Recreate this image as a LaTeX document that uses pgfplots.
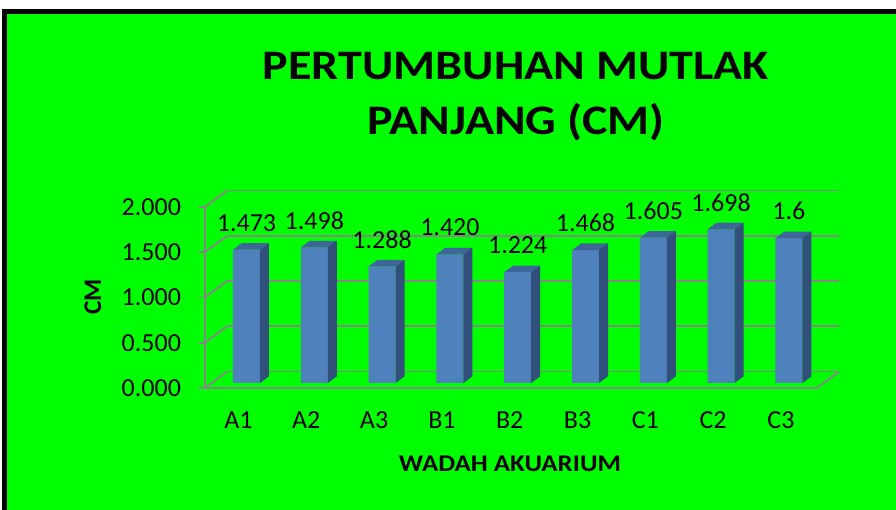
\documentclass[border=0pt]{standalone}
\usepackage{pgfplots}
\pgfplotsset{compat=1.18}
\usepackage{fontspec}
\setmainfont{Carlito}
\definecolor{bggreen}{HTML}{00FF00}
\definecolor{barfront}{HTML}{4F81BD}
\definecolor{bartop}{HTML}{3F6699}
\definecolor{barside}{HTML}{31507B}
\definecolor{gridgray}{HTML}{868686}

% 3D part of a bar (top face and right side face), drawn at the top-front centre of the bar
\pgfdeclareplotmark{bar3d}{%
  \pgfmathsetlengthmacro\hh{\barval*67.875pt}%
  \pgfpathmoveto{\pgfpoint{-10.125pt}{0pt}}%
  \pgfpathlineto{\pgfpoint{10.125pt}{0pt}}%
  \pgfpathlineto{\pgfpoint{16.875pt}{5pt}}%
  \pgfpathlineto{\pgfpoint{-3.375pt}{5pt}}%
  \pgfpathclose
  \pgfsetfillcolor{bartop}\pgfusepath{fill}%
  \pgfpathmoveto{\pgfpoint{10.125pt}{0pt}}%
  \pgfpathlineto{\pgfpoint{16.875pt}{5pt}}%
  \pgfpathlineto{\pgfpoint{16.875pt}{5pt-\hh}}%
  \pgfpathlineto{\pgfpoint{10.125pt}{-\hh}}%
  \pgfpathclose
  \pgfsetfillcolor{barside}\pgfusepath{fill}%
}

\begin{document}
\begin{tikzpicture}
\fill[white] (0,0) rectangle (672pt,382.5pt);
\useasboundingbox (0,0) rectangle (672pt,382.5pt);
\fill[black] (1.5pt,0) rectangle (672pt,375.75pt);
\fill[bggreen] (5.25pt,0) rectangle (672pt,372pt);

\begin{axis}[
  at={(153.75pt,91.5pt)}, anchor=south west,
  scale only axis, width=459pt, height=135.75pt,
  xmin=-0.612, xmax=8.414, ymin=0, ymax=2,
  clip=false,
  axis x line*=bottom, axis y line*=left,
  axis line style={gridgray, line width=1.4pt, -},
  xtick={0,...,8},
  xticklabels={A1,A2,A3,B1,B2,B3,C1,C2,C3},
  xtick style={draw=none},
  ytick={0,0.5,1,1.5,2},
  ytick style={gridgray, line width=1.4pt},
  tick align=outside, major tick length=4.5pt,
  /pgf/number format/assume math mode=true,
  yticklabel style={/pgf/number format/.cd, fixed, fixed zerofill, precision=3, /tikz/.cd,
    font=\fontsize{19.5pt}{23pt}\selectfont, xshift=-10pt},
  xticklabel style={font=\fontsize{19.5pt}{23pt}\selectfont, xshift=-6pt, yshift=-10pt},
  ymajorgrids,
  major grid style={gridgray, line width=1.4pt, xshift=16.5pt, yshift=12.4pt},
]
\pgfplotsinvokeforeach{0,0.25,0.5,0.75,1}{
  \draw[gridgray, line width=1.4pt] (rel axis cs:0,#1) -- ++(16.5pt,12.4pt);
}
\draw[gridgray, line width=1.4pt] (rel axis cs:1,0) -- ++(16.5pt,12.4pt);

\addplot[scatter, only marks, mark=bar3d, yshift=3.75pt,
  visualization depends on={rawy \as \barval}]
  coordinates {(0,1.473) (1,1.498) (2,1.288) (3,1.420) (4,1.224) (5,1.468) (6,1.605) (7,1.698) (8,1.6)};

\addplot[ybar, bar width=20.25pt, fill=barfront, draw=none, yshift=3.75pt,
  point meta=explicit symbolic, nodes near coords,
  every node near coord/.append style={font=\fontsize{19.5pt}{23pt}\selectfont, anchor=center, yshift=20.25pt, text=black}]
  coordinates {(0,1.473)[1.473] (1,1.498)[1.498] (2,1.288)[1.288] (3,1.420)[1.420] (4,1.224)[1.224]
               (5,1.468)[1.468] (6,1.605)[1.605] (7,1.698)[1.698] (8,1.6)[1.6]};
\end{axis}

\node[anchor=base, xscale=1.145, font=\fontsize{31.5pt}{36pt}\selectfont\bfseries, inner sep=0pt] at (387pt,322.5pt) {PERTUMBUHAN MUTLAK};
\node[anchor=base, xscale=1.145, font=\fontsize{31.5pt}{36pt}\selectfont\bfseries, inner sep=0pt] at (387pt,281.25pt) {PANJANG (CM)};
\node[anchor=base, xscale=1.12, font=\fontsize{18pt}{22pt}\selectfont\bfseries, inner sep=0pt] at (382.5pt,28.5pt) {WADAH AKUARIUM};
\node[rotate=90, font=\fontsize{19pt}{22pt}\selectfont\bfseries, inner sep=0pt] at (69.75pt,159.75pt) {CM};
\end{tikzpicture}
\end{document}
